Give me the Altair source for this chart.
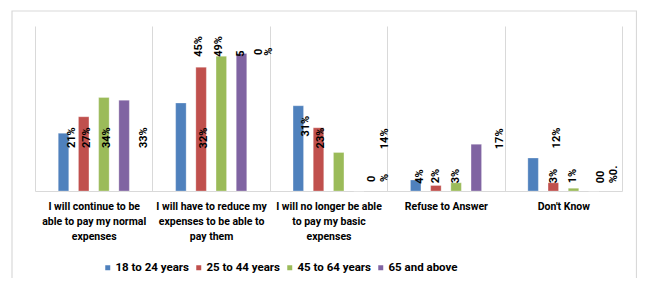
import altair as alt
import pandas as pd

# ---- data ----
categories = [
    "I will continue to be|able to pay my normal|expenses",
    "I will have to reduce my|expenses to be able to|pay them",
    "I will no longer be able|to pay my basic|expenses",
    "Refuse to Answer",
    "Don't Know",
]
series = ["18 to 24 years", "25 to 44 years", "45 to 64 years", "65 and above"]
values = {
    "18 to 24 years": [21, 32, 31, 4, 12],
    "25 to 44 years": [27, 45, 23, 2, 3],
    "45 to 64 years": [34, 49, 14, 3, 1],
    "65 and above":   [33, 50, 0, 17, 0],
}
colors = ["#4F81BD", "#C0504D", "#9BBB59", "#8064A2"]

# data labels as they appear (misplaced) in the reference: text, category index, slot, base value
label_text = ["21%", "27%", "34%", "33%",
              "32%", "45%", "49%", "5", "0", "%",
              "31%", "23%", "14%", "0", "%",
              "4%", "2%", "3%", "17%",
              "12%", "3%", "1%", "00", "%0."]
label_cat = [0, 0, 0, 0,
             1, 1, 1, 1, 1, 1,
             2, 2, 2, 2, 2,
             3, 3, 3, 3,
             4, 4, 4, 4, 4]
label_slot = [0.4, 1.15, 2.15, 4.0,
              1.16, 0.9, 1.9, 3.0, 3.85, 4.35,
              0.4, 1.15, 4.3, 3.65, 4.3,
              0.2, 1.0, 2.0, 4.2,
              1.18, 1.05, 2.0, 3.38, 4.0]
label_base = [15.6, 15.6, 15.6, 15.6,
              15.5, 48.8, 48.8, 48.8, 49.5, 49.2,
              19.8, 15.5, 15.2, 3.3, 3.3,
              2.6, 2.8, 2.8, 15.2,
              15.5, 2.8, 2.8, 2.8, 2.8]

bars_df = pd.DataFrame(
    [{"category": c, "series": s, "value": values[s][i]}
     for i, c in enumerate(categories) for s in series]
)
labels_df = pd.DataFrame({
    "category": [categories[i] for i in label_cat],
    "text": label_text,
    "slot": label_slot,
    "base": label_base,
})

FONT = "Roboto"
W, H = 587, 165

xenc = alt.X(
    "category:N",
    sort=categories,
    scale=alt.Scale(domain=categories, paddingInner=0, paddingOuter=0),
    axis=alt.Axis(
        title=None, grid=True, tickBand="extent", gridColor="#d9d9d9",
        domainColor="#d9d9d9", ticks=False, labelAngle=0,
        labelExpr="split(datum.label, '|')", labelFont=FONT, labelFontSize=10.5,
        labelFontWeight="bold", labelColor="#000000", labelLineHeight=15,
        labelPadding=10, labelBaseline="top",
    ),
)
yscale = alt.Scale(domain=[0, 60])

bars = alt.Chart(bars_df).mark_bar(size=10.5, stroke="#ffffff", strokeOpacity=0.35,
                                   strokeWidth=0.8).encode(
    x=xenc,
    xOffset=alt.XOffset("series:N", sort=series,
                        scale=alt.Scale(domain=series, range=[18.4, 99.2],
                                        paddingInner=0.48, paddingOuter=0.24)),
    y=alt.Y("value:Q", scale=yscale, axis=None),
    color=alt.Color(
        "series:N", sort=series,
        scale=alt.Scale(domain=series, range=colors),
        legend=alt.Legend(
            title=None, orient="none", legendX=67, legendY=236, direction="horizontal",
            symbolType="square", symbolSize=42, labelFont=FONT, labelFontSize=11.5,
            labelFontWeight="bold", labelColor="#000000", columnPadding=3, labelOffset=2,
        ),
    ),
)

texts = alt.Chart(labels_df).mark_text(
    angle=270, align="left", baseline="middle", font=FONT, fontSize=11,
    fontWeight="bold", color="#000000",
).encode(
    x=alt.X("category:N", sort=categories),
    xOffset=alt.XOffset("slot:Q", scale=alt.Scale(domain=[-1.41, 4.407])),
    y=alt.Y("base:Q", scale=yscale),
    text="text:N",
)

border = alt.Chart(pd.DataFrame({"k": [0]})).mark_rect(
    fill=None, stroke="#d9d9d9", strokeWidth=1.2
).encode(
    x=alt.value(-23), x2=alt.value(601.5), y=alt.value(-15), y2=alt.value(262),
)

chart = alt.layer(border, bars, texts).resolve_scale(xOffset="independent").properties(
    width=W, height=H,
    autosize=alt.AutoSizeParams(type="none"),
    padding={"left": 27, "top": 18, "right": 15, "bottom": 87},
).configure_view(stroke=None)

chart.save("out.html", embed_options={"renderer": "svg", "actions": False})
